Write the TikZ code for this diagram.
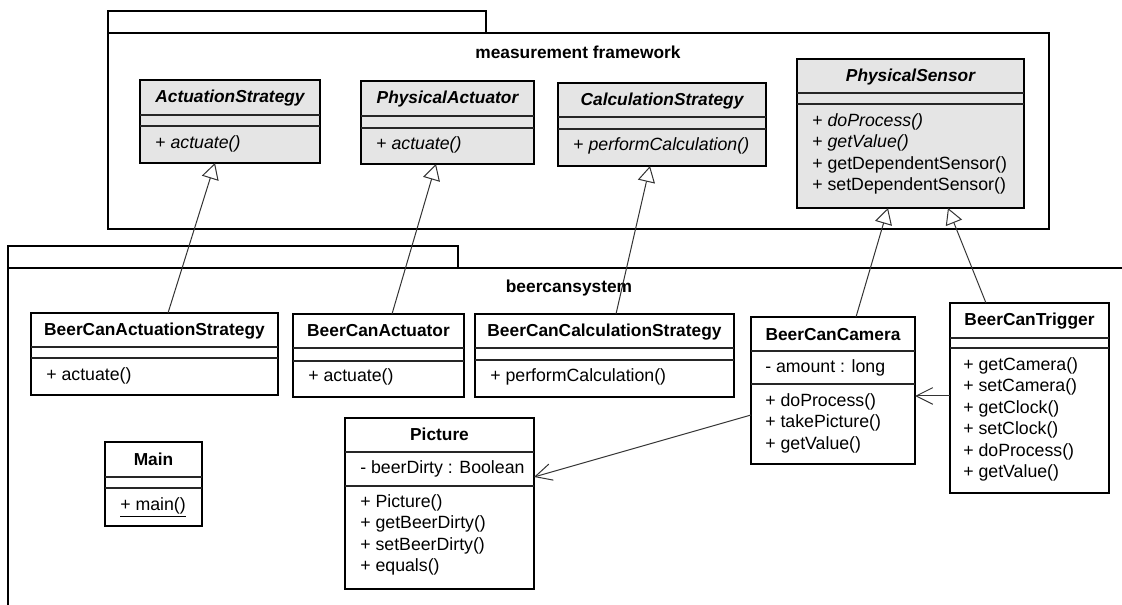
\documentclass[tikz,border=0pt]{standalone}
\usepackage{fontspec}
\setmainfont{Liberation Sans}
\usetikzlibrary{arrows.meta,calc}

% a class box with its two compartment dividers
\newcommand\umlclass[8]{% name, style, left, top, right, bottom, divider 1, divider 2
  \pgfmathsetmacro\boxw{(#5-#3)*0.75}%
  \pgfmathsetmacro\boxh{(#6-#4)*0.75}%
  \node[#2, minimum width=\boxw pt, minimum height=\boxh pt, anchor=north west] (#1) at (#3,#4) {};
  \draw[compline] (#3,#7) -- (#5,#7);
  \draw[compline] (#3,#8) -- (#5,#8);
}
% one left-aligned line per attribute or operation
\newcommand\memberlist[4]{% prefix, x, first y, entries
  \foreach \entry [count=\k] in {#4} {
    \node[member] (#1-\k) at (#2, {#3+(\k-1)*21.4}) {\entry};
  }%
}

\begin{document}
\begin{tikzpicture}[x=0.75pt, y=-0.75pt,
  pkgline/.style={draw=black, line width=1.6pt},
  pkglabel/.style={inner sep=0pt, font=\bfseries\fontsize{13}{15}\selectfont},
  abstractbox/.style={draw=black, line width=1.6pt, fill=black!10, inner sep=0pt, outer sep=0pt},
  classbox/.style={draw=black, line width=1.6pt, fill=white, inner sep=0pt, outer sep=0pt},
  compline/.style={draw=black!85, line width=0.8pt},
  clsname/.style={inner sep=0pt, text height=0.75em, text depth=0.22em,
                  font=\bfseries\fontsize{13}{15}\selectfont},
  absname/.style={clsname, font=\bfseries\itshape\fontsize{13}{15}\selectfont},
  member/.style={anchor=west, inner sep=0pt, text height=0.75em, text depth=0.22em,
                 font=\fontsize{13.3}{15.5}\selectfont},
  gen/.style={draw=black!80, line width=0.75pt,
              -{Triangle[open, length=12pt, width=13pt]}},
  assoc/.style={draw=black!80, line width=0.75pt,
                -{Straight Barb[length=12.5pt, width=12.5pt]}}]

\useasboundingbox (0,0) rectangle (1122,605);
\fill[white] (0,0) rectangle (1122,605);

% package: measurement framework
\draw[pkgline] (108,33) -- (108,11) -- (486,11) -- (486,33);
\draw[pkgline] (108,33) rectangle (1049,229);
\node[pkglabel] (mf-label) at (578,52) {measurement framework};

% package: beercansystem (runs past the right and bottom edges)
\draw[pkgline] (8,268) -- (8,246) -- (458,246) -- (458,268);
\draw[pkgline] (8,606) -- (8,268) -- (1124,268);
\node[pkglabel] (bc-label) at (569,288) {beercansystem};

% abstract classes
\umlclass{as}{abstractbox}{140}{80}{320}{163}{115}{126}
\node[absname] (as-name) at (230,99) {ActuationStrategy};
\memberlist{as-op}{155}{145}{+ \textit{actuate()}}

\umlclass{pa}{abstractbox}{361}{81}{534}{164}{116}{128}
\node[absname] (pa-name) at (447.5,100) {PhysicalActuator};
\memberlist{pa-op}{376}{146}{+ \textit{actuate()}}

\umlclass{cs}{abstractbox}{558}{83}{766}{166}{117}{129}
\node[absname] (cs-name) at (662,102) {CalculationStrategy};
\memberlist{cs-op}{573}{147}{+ \textit{performCalculation()}}

\umlclass{ps}{abstractbox}{797}{59}{1024}{208}{93}{104}
\node[absname] (ps-name) at (910.5,78) {PhysicalSensor};
\memberlist{ps-op}{812}{123}{+ \textit{doProcess()}, + \textit{getValue()},
  + getDependentSensor(), + setDependentSensor()}

% concrete classes
\umlclass{bcas}{classbox}{31}{313}{278}{395}{347}{358}
\node[clsname] (bcas-name) at (154.5,332) {BeerCanActuationStrategy};
\memberlist{bcas-op}{46}{377}{+ actuate()}

\umlclass{bca}{classbox}{293}{314}{464}{397}{348}{361}
\node[clsname] (bca-name) at (378.5,333) {BeerCanActuator};
\memberlist{bca-op}{308}{378}{+ actuate()}

\umlclass{bccs}{classbox}{475}{314}{734}{397}{348}{360}
\node[clsname] (bccs-name) at (604.5,333) {BeerCanCalculationStrategy};
\memberlist{bccs-op}{490}{378}{+ performCalculation()}

\umlclass{bcc}{classbox}{751}{317}{915}{464}{351}{384}
\node[clsname] (bcc-name) at (833,337) {BeerCanCamera};
\memberlist{bcc-at}{765}{369}{- amount : long}
\memberlist{bcc-op}{765}{403}{+ doProcess(), + takePicture(), + getValue()}

\umlclass{bct}{classbox}{950}{303}{1109}{493}{338}{348}
\node[clsname] (bct-name) at (1029.5,322) {BeerCanTrigger};
\memberlist{bct-op}{963}{367}{+ getCamera(), + setCamera(), + getClock(),
  + setClock(), + doProcess(), + getValue()}

\umlclass{pic}{classbox}{345}{418}{534}{589}{452}{486}
\node[clsname] (pic-name) at (439.5,437) {Picture};
\memberlist{pic-at}{360}{470}{- beerDirty : Boolean}
\memberlist{pic-op}{360}{504}{+ Picture(), + getBeerDirty(), + setBeerDirty(), + equals()}

\umlclass{main}{classbox}{105}{442}{202}{526}{477}{488}
\node[clsname] (main-name) at (153.5,462) {Main};
\memberlist{main-op}{120}{507}{\underline{+ main()}}

% generalizations
\draw[gen] ($(bcas.north west)+(137,0)$) -- ($(as.south west)+(75,0)$);
\draw[gen] ($(bca.north west)+(99,0)$) -- ($(pa.south west)+(75,0)$);
\draw[gen] ($(bccs.north west)+(141,0)$) -- ($(cs.south west)+(92,0)$);
\draw[gen] ($(bcc.north west)+(105,0)$) -- ($(ps.south west)+(91,0)$);
\draw[gen] ($(bct.north west)+(36,0)$) -- ($(ps.south west)+(151,0)$);

% associations
\draw[assoc] ($(bct.north west)+(0,93)$) -- ($(bcc.north east)+(0,79)$);
\draw[assoc] ($(bcc.north west)+(0,98)$) -- ($(pic.north east)+(0,59)$);

\end{tikzpicture}
\end{document}
